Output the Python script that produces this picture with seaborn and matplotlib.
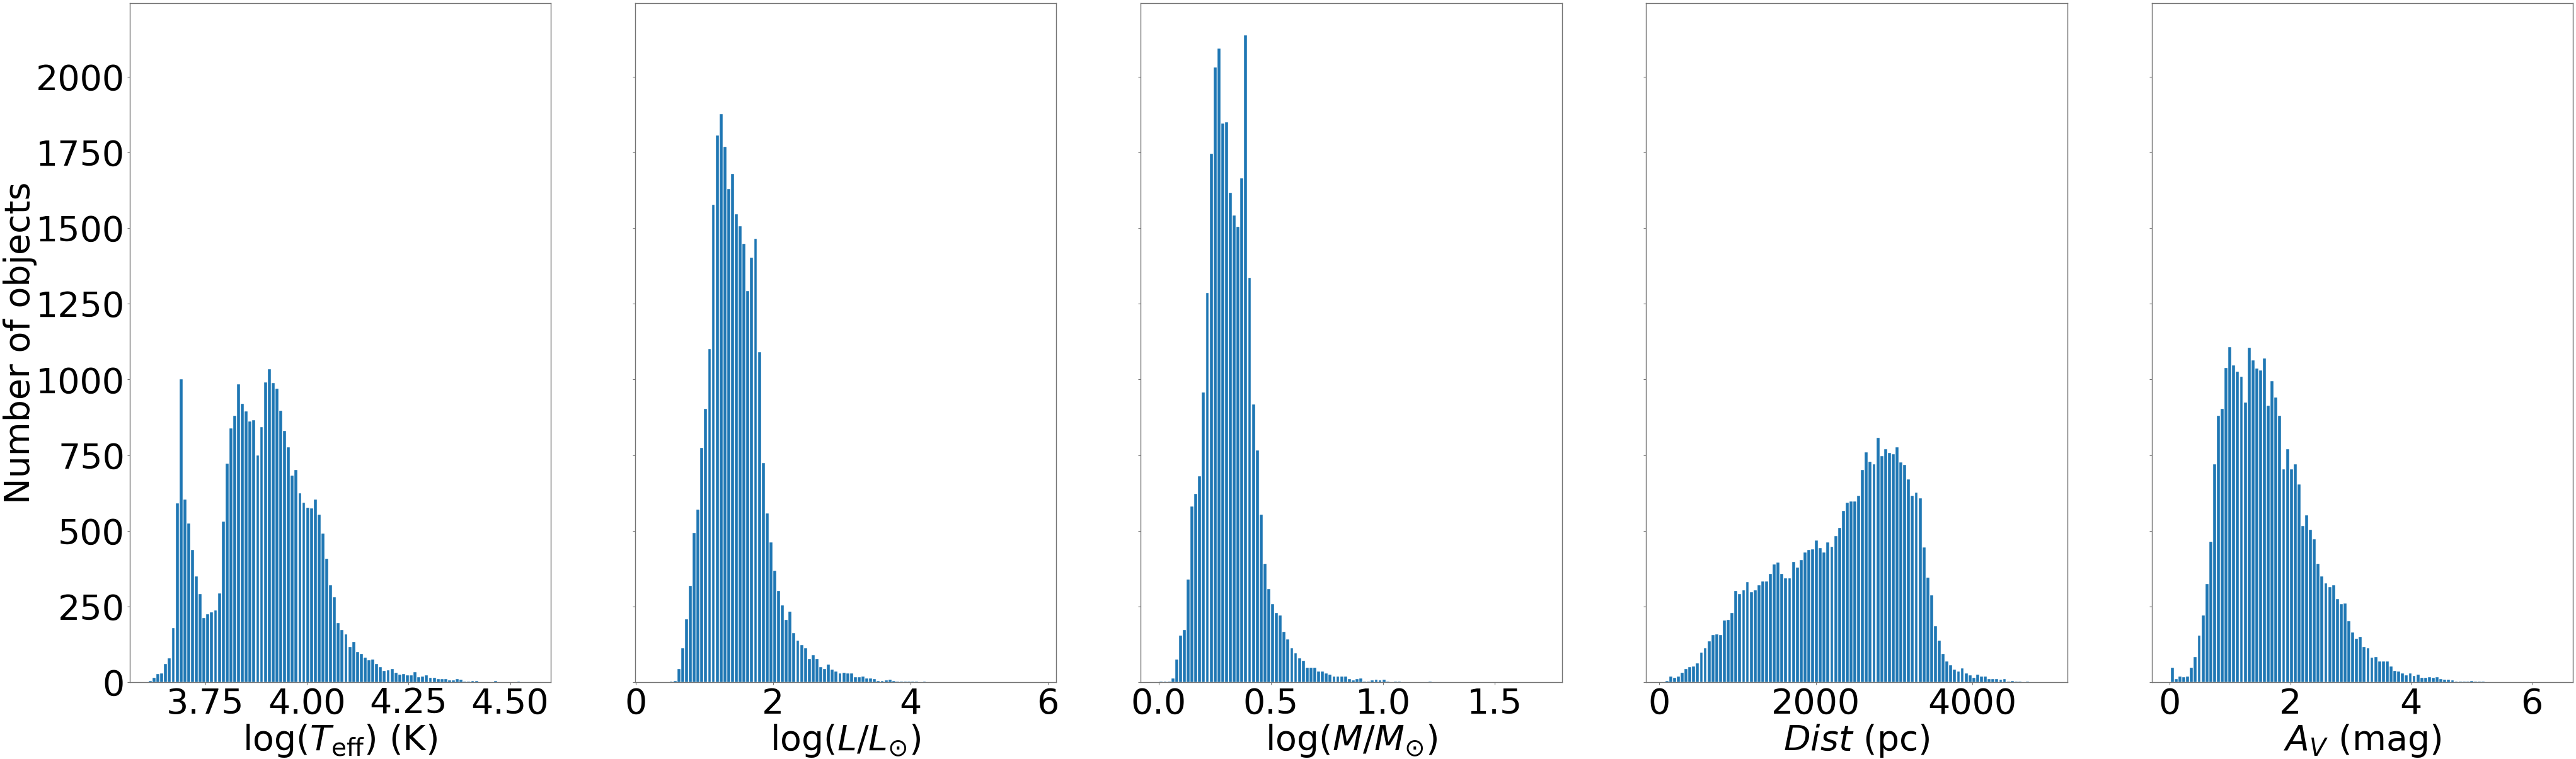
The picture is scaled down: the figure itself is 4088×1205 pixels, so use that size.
import numpy as np
import pandas as pd
import matplotlib
matplotlib.use("Agg")
import matplotlib.pyplot as plt
from matplotlib.ticker import MultipleLocator
import seaborn as sns

# --- counts per bin (100 bins per parameter) ---
teff_counts = [5, 15, 27, 29, 60, 80, 180, 590, 1000, 603,
               525, 437, 350, 291, 213, 224, 232, 237, 294, 531,
               721, 839, 880, 984, 920, 894, 862, 866, 750, 842,
               990, 1034, 988, 970, 897, 830, 776, 683, 701, 624,
               592, 577, 574, 604, 554, 491, 407, 321, 280, 196,
               172, 158, 117, 134, 99, 94, 82, 73, 76, 61,
               50, 37, 39, 43, 32, 25, 28, 24, 22, 33,
               16, 18, 22, 14, 14, 11, 11, 11, 7, 6,
               10, 9, 3, 2, 5, 5, 1, 1, 1, 1,
               5, 1, 1, 1, 0, 1, 2, 0, 1, 1]
teff_range = (3.610, 4.554)

lum_counts = [1, 0, 0, 1, 3, 5, 43, 112, 208, 318,
              493, 570, 773, 904, 1101, 1576, 1805, 1877, 1768, 1629,
              1678, 1546, 1506, 1448, 1293, 1403, 1464, 1091, 725, 557,
              462, 368, 302, 253, 206, 234, 163, 138, 123, 112,
              77, 90, 77, 51, 43, 59, 42, 35, 30, 32,
              29, 29, 16, 16, 19, 13, 13, 11, 5, 5,
              6, 8, 5, 2, 3, 3, 3, 2, 2, 1,
              2, 1, 1, 1, 0, 1, 1, 0, 1, 0,
              0, 1, 0, 0, 1, 0, 0, 0, 1, 0,
              0, 0, 0, 1, 0, 0, 0, 0, 0, 1]
lum_range = (0.265, 5.851)

mass_counts = [2, 2, 3, 13, 75, 154, 173, 339, 581, 622,
               680, 958, 1286, 1746, 2030, 2093, 1845, 1850, 1616, 1542,
               1504, 1664, 2136, 1336, 918, 766, 554, 392, 307, 258,
               229, 221, 166, 142, 112, 96, 80, 70, 48, 48,
               48, 35, 35, 29, 26, 19, 19, 19, 18, 10,
               6, 10, 13, 3, 2, 6, 8, 6, 8, 2,
               1, 2, 2, 1, 0, 1, 0, 1, 1, 0,
               2, 0, 0, 0, 0, 1, 1, 1, 1, 0,
               0, 0, 0, 0, 0, 0, 0, 0, 0, 0,
               0, 0, 0, 0, 0, 0, 0, 0, 0, 1]
mass_range = (0.003, 1.715)

dist_counts = [5, 18, 14, 19, 32, 43, 51, 53, 62, 98,
               112, 136, 157, 158, 157, 205, 206, 229, 301, 291,
               304, 331, 298, 304, 320, 333, 333, 358, 390, 395,
               357, 344, 344, 397, 378, 403, 429, 437, 440, 469,
               443, 429, 461, 448, 483, 509, 565, 592, 598, 598,
               616, 702, 760, 728, 720, 808, 746, 770, 758, 754,
               776, 726, 717, 669, 616, 627, 608, 446, 346, 288,
               186, 138, 93, 69, 56, 42, 35, 46, 29, 24,
               14, 26, 19, 19, 11, 11, 11, 8, 10, 3,
               5, 3, 2, 1, 2, 1, 0, 0, 1, 1]
dist_range = (72.0, 4975.0)

av_counts = [48, 10, 19, 16, 19, 48, 83, 154, 221, 325,
             464, 720, 880, 904, 1038, 1106, 1046, 1026, 1010, 923,
             1104, 1064, 1037, 1029, 1070, 914, 995, 941, 880, 704,
             770, 704, 720, 653, 517, 552, 504, 472, 392, 350,
             326, 315, 320, 275, 259, 261, 202, 165, 144, 149,
             117, 112, 82, 83, 69, 69, 69, 53, 38, 35,
             29, 24, 29, 21, 26, 14, 14, 16, 14, 16,
             11, 8, 8, 6, 3, 2, 2, 3, 5, 3,
             2, 2, 1, 1, 1, 1, 0, 1, 0, 0,
             0, 0, 0, 0, 0, 1, 0, 0, 0, 1]
av_range = (0.009, 6.371)

x_labels = [r'log($T_{\rm eff}$) (K)', r'log($L/L_{\odot}$)', r'log($M/M_{\odot}$)',
            r'$Dist$ (pc)', r'$A_V$ (mag)']
x_steps = [0.25, 2, 0.5, 2000, 2]

panels = [(teff_counts, teff_range), (lum_counts, lum_range), (mass_counts, mass_range),
          (dist_counts, dist_range), (av_counts, av_range)]

# --- figure ---
fig, axes = plt.subplots(1, 5, figsize=(40.88, 12.05), dpi=100, sharey=True)
fig.subplots_adjust(left=0.0503, right=0.9988, bottom=0.1012, top=0.9959, wspace=0.2)

for ax, (counts, (lo, hi)), label, step in zip(axes, panels, x_labels, x_steps):
    edges = np.linspace(lo, hi, len(counts) + 1).tolist()
    centers = [(a + b) / 2 for a, b in zip(edges[:-1], edges[1:])]
    df = pd.DataFrame({'value': centers, 'n': counts})
    sns.histplot(data=df, x='value', weights='n', bins=edges, ax=ax,
                 color='#1f77b4', alpha=1, edgecolor='white', linewidth=0.3, shrink=0.8)
    ax.set_xlabel(label, fontsize=40, labelpad=2)
    ax.set_ylabel('')
    ax.xaxis.set_major_locator(MultipleLocator(step))
    ax.tick_params(axis='both', labelsize=40, length=3, pad=2.5, color='0.45', width=0.8)
    for sp in ax.spines.values():
        sp.set_color('0.45')
        sp.set_linewidth(1.0)

axes[0].yaxis.set_major_locator(MultipleLocator(250))
axes[0].set_ylabel('Number of objects', fontsize=40)
axes[0].yaxis.set_label_coords(-0.22, 0.5)

fig.savefig('out.png', dpi=100)
